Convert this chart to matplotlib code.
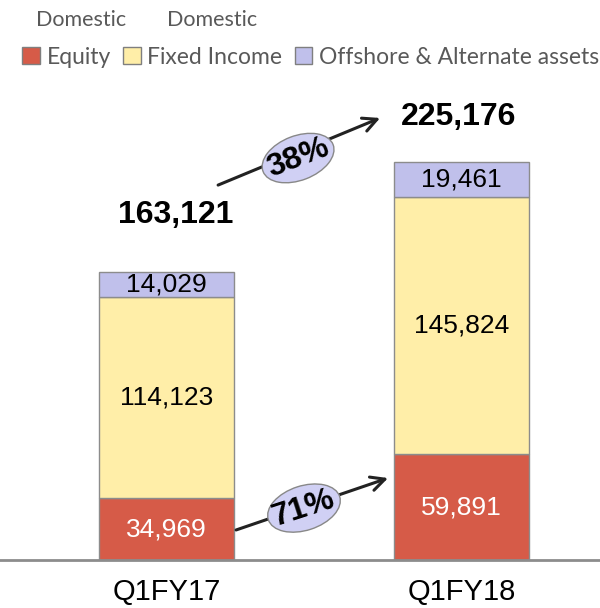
import matplotlib
matplotlib.use("Agg")
import matplotlib.pyplot as plt
import matplotlib.transforms as mtransforms
from matplotlib.patches import Ellipse, Patch

# данные
quarters = ["Q1FY17", "Q1FY18"]
equity = [34969, 59891]
fixed_income = [114123, 145824]
offshore = [14029, 19461]
totals = [163121, 225176]
growth_total = "38%"
growth_equity = "71%"

series_names = ["Equity", "Fixed Income", "Offshore & Alternate assets"]
colors = ["#D65B48", "#FFEEA8", "#C0C0EB"]

fig = plt.figure(figsize=(6, 6.08), dpi=100)
ax = fig.add_axes([0, 48 / 608, 1, 480 / 608])

x = list(range(len(quarters)))
w = 0.458
bottom = [0, 0]
for vals, col in zip([equity, fixed_income, offshore], colors):
    ax.bar(x, vals, w, bottom=bottom, color=col, edgecolor="#8C8C8C", linewidth=1)
    for i, v in enumerate(vals):
        tc = "white" if col == colors[0] else "black"
        ax.text(i, bottom[i] + v / 2, f"{v:,}", ha="center", va="center",
                fontsize=19, color=tc, family="Liberation Sans")
    bottom = [b + v for b, v in zip(bottom, vals)]

# итоговые значения
offsets = [(9, 57), (-3, 45)]
for i, t in enumerate(totals):
    ax.annotate(f"{t:,}", (i, t), xytext=offsets[i], textcoords="offset pixels",
                ha="center", va="center", fontsize=23, fontweight="bold",
                family="Liberation Sans")

ax.set_xlim(-0.564, 1.469)
ax.set_ylim(0, 271800)
ax.axhline(0, color="#8C8C8C", lw=2, clip_on=False)
for s in ax.spines.values():
    s.set_visible(False)
ax.set_yticks([])
ax.set_xticks(x)
ax.set_xticklabels(quarters, fontsize=21, family="Liberation Sans")
ax.tick_params(axis="x", length=0, pad=13)


# стрелки с эллипсами
def growth_arrow(start, end, center, label, angle):
    ax.annotate("", xy=end, xytext=start,
                arrowprops=dict(arrowstyle="->,head_length=1.0,head_width=0.5",
                                color="#222222", lw=2.2, shrinkA=0, shrinkB=0))
    tr = mtransforms.Affine2D().scale(fig.dpi / 72) + \
        mtransforms.ScaledTranslation(center[0], center[1], ax.transData)
    ax.add_patch(Ellipse((0, 0), 54, 32, angle=angle, transform=tr,
                         facecolor="#D0D0F4", edgecolor="#888888", lw=1, zorder=5))
    ax.text(center[0], center[1], label, rotation=angle, rotation_mode="anchor",
            ha="center", va="center", fontsize=23, fontweight="bold", zorder=6,
            family="Liberation Sans")


growth_arrow((0.175, 212300), (0.724, 250300), (0.446, 227600), growth_total, 21)
growth_arrow((0.236, 17000), (0.751, 46400), (0.466, 29400), growth_equity, 18)

# легенда
handles = [Patch(facecolor=c, edgecolor="#7F7F7F", lw=1) for c in colors]
fig.legend(handles, series_names, loc="center", bbox_to_anchor=(0.518, 1 - 57 / 608),
           ncol=3, frameon=False, handlelength=0.75, handleheight=0.75,
           handletextpad=0.3, columnspacing=0.55, borderpad=0,
           prop={"family": "Lato", "size": 16.5}, labelcolor="#595959")
fig.text(36 / 600, 1 - 20 / 608, "Domestic", ha="left", va="center",
         fontsize=15.5, family="Lato", color="#595959")
fig.text(167 / 600, 1 - 20 / 608, "Domestic", ha="left", va="center",
         fontsize=15.5, family="Lato", color="#595959")

fig.savefig("out.png", dpi=100)
